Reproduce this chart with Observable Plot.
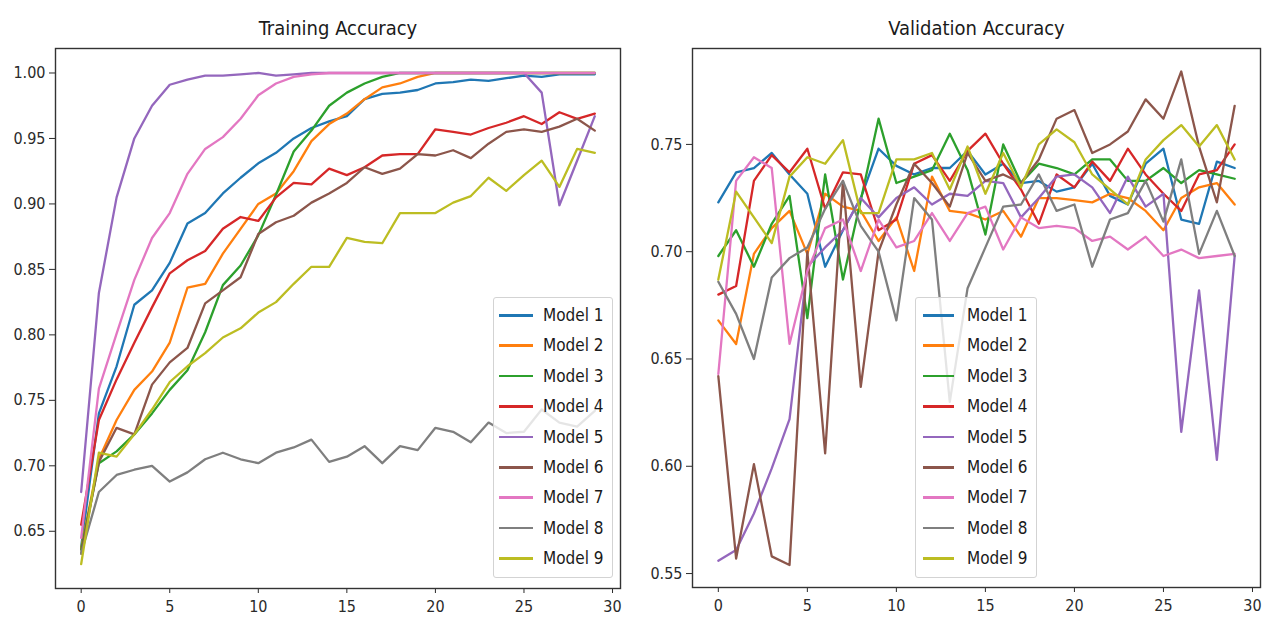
<!DOCTYPE html>
<html>
<head>
<meta charset="utf-8">
<script src="https://cdn.jsdelivr.net/npm/d3@7"></script>
<script src="https://cdn.jsdelivr.net/npm/@observablehq/plot@0.6"></script>
<style>
  body { margin: 0; background: #fff; }
  #wrap { position: relative; width: 1266px; height: 624px; overflow: hidden;
          font-family: "DejaVu Sans Condensed", "DejaVu Sans", sans-serif; font-stretch: condensed; }
  .panel { position: absolute; top: 0; }
  .legend { position: absolute; background: rgba(255,255,255,0.8); border: 1px solid #d3d3d3;
            border-radius: 3px; box-sizing: border-box; }
  .item { position: absolute; left: 0; right: 0; height: 22px; }
  .item .swatch { position: absolute; top: 10px; height: 2.6px; }
  .item .lab { position: absolute; top: 0; line-height: 22px; font-size: 17px; color: #1a1a1a; white-space: nowrap; }
</style>
</head>
<body>
<div id="wrap"></div>
<script>
const epochs = d3.range(30);
const models = ["Model 1","Model 2","Model 3","Model 4","Model 5","Model 6","Model 7","Model 8","Model 9"];
const colors = ["#1f77b4","#ff7f0e","#2ca02c","#d62728","#9467bd","#8c564b","#e377c2","#7f7f7f","#bcbd22"];
const xTicks = [0, 5, 10, 15, 20, 25, 30];
const trainTicks = [0.65, 0.70, 0.75, 0.80, 0.85, 0.90, 0.95, 1.00];
const valTicks = [0.55, 0.60, 0.65, 0.70, 0.75];
const titles = ["Training Accuracy", "Validation Accuracy"];

// Training accuracy per model (epochs 0..29)
const trainM1 = [0.638,0.740,0.776,0.823,0.834,0.855,0.885,0.893,0.908,0.920,0.931,0.939,0.950,0.958,0.963,0.967,0.980,0.984,0.985,0.987,0.992,0.993,0.995,0.994,0.996,0.998,0.997,0.999,0.999,0.999];
const trainM2 = [0.637,0.705,0.735,0.758,0.772,0.794,0.836,0.839,0.862,0.881,0.900,0.908,0.925,0.948,0.961,0.969,0.980,0.989,0.992,0.997,1.000,1.000,1.000,1.000,1.000,1.000,1.000,1.000,1.000,1.000];
const trainM3 = [0.636,0.702,0.711,0.724,0.740,0.758,0.773,0.802,0.838,0.853,0.876,0.907,0.940,0.956,0.975,0.985,0.992,0.997,1.000,1.000,1.000,1.000,1.000,1.000,1.000,1.000,1.000,1.000,1.000,1.000];
const trainM4 = [0.655,0.735,0.766,0.794,0.821,0.847,0.857,0.864,0.881,0.890,0.887,0.905,0.916,0.915,0.927,0.922,0.928,0.937,0.938,0.938,0.957,0.955,0.953,0.958,0.962,0.967,0.961,0.970,0.965,0.969];
const trainM5 = [0.680,0.832,0.905,0.950,0.975,0.991,0.995,0.998,0.998,0.999,1.000,0.998,0.999,1.000,1.000,1.000,1.000,1.000,1.000,1.000,1.000,1.000,1.000,1.000,1.000,1.000,0.985,0.899,0.933,0.967];
const trainM6 = [0.633,0.703,0.729,0.724,0.762,0.779,0.790,0.824,0.834,0.844,0.877,0.886,0.891,0.901,0.908,0.916,0.928,0.923,0.927,0.938,0.937,0.941,0.935,0.946,0.955,0.957,0.955,0.959,0.965,0.956];
const trainM7 = [0.645,0.759,0.801,0.842,0.874,0.893,0.923,0.942,0.951,0.965,0.983,0.992,0.997,0.999,1.000,1.000,1.000,1.000,1.000,1.000,1.000,1.000,1.000,1.000,1.000,1.000,1.000,1.000,1.000,1.000];
const trainM8 = [0.633,0.680,0.693,0.697,0.700,0.688,0.695,0.705,0.710,0.705,0.702,0.710,0.714,0.720,0.703,0.707,0.715,0.702,0.715,0.712,0.729,0.726,0.718,0.733,0.725,0.726,0.743,0.733,0.730,0.742];
const trainM9 = [0.625,0.710,0.707,0.724,0.743,0.764,0.776,0.786,0.798,0.805,0.817,0.825,0.839,0.852,0.852,0.874,0.871,0.870,0.893,0.893,0.893,0.901,0.906,0.920,0.910,0.922,0.933,0.913,0.942,0.939];

// Validation accuracy per model (epochs 0..29)
const valM1 = [0.723,0.737,0.739,0.746,0.736,0.727,0.693,0.710,0.725,0.748,0.740,0.736,0.739,0.739,0.747,0.736,0.741,0.732,0.733,0.728,0.730,0.741,0.726,0.722,0.741,0.748,0.715,0.713,0.742,0.739];
const valM2 = [0.668,0.657,0.699,0.711,0.719,0.699,0.727,0.721,0.719,0.705,0.716,0.691,0.735,0.719,0.718,0.715,0.719,0.707,0.725,0.725,0.724,0.723,0.727,0.725,0.719,0.710,0.725,0.730,0.732,0.722];
const valM3 = [0.698,0.710,0.693,0.713,0.726,0.669,0.736,0.687,0.724,0.762,0.732,0.735,0.738,0.755,0.738,0.708,0.750,0.732,0.741,0.739,0.736,0.743,0.743,0.733,0.733,0.739,0.732,0.738,0.736,0.734];
const valM4 = [0.680,0.684,0.733,0.745,0.737,0.748,0.720,0.737,0.736,0.710,0.715,0.741,0.745,0.733,0.747,0.755,0.741,0.729,0.713,0.736,0.730,0.742,0.733,0.748,0.736,0.727,0.719,0.736,0.738,0.750];
const valM5 = [0.556,0.561,0.578,0.599,0.622,0.693,0.702,0.710,0.725,0.716,0.725,0.730,0.722,0.727,0.726,0.733,0.732,0.716,0.725,0.735,0.736,0.730,0.718,0.735,0.721,0.727,0.616,0.682,0.603,0.698];
const valM6 = [0.642,0.557,0.601,0.558,0.554,0.700,0.606,0.733,0.637,0.700,0.722,0.741,0.732,0.721,0.746,0.733,0.736,0.732,0.743,0.762,0.766,0.746,0.750,0.756,0.771,0.762,0.784,0.749,0.723,0.768];
const valM7 = [0.643,0.733,0.744,0.739,0.657,0.691,0.711,0.715,0.691,0.715,0.702,0.705,0.718,0.705,0.718,0.721,0.701,0.716,0.711,0.712,0.711,0.705,0.707,0.701,0.707,0.698,0.701,0.697,0.698,0.699];
const valM8 = [0.686,0.671,0.650,0.688,0.697,0.702,0.720,0.733,0.712,0.700,0.668,0.725,0.715,0.630,0.683,0.702,0.721,0.722,0.736,0.719,0.722,0.693,0.715,0.718,0.733,0.714,0.743,0.699,0.719,0.698];
const valM9 = [0.687,0.728,0.716,0.704,0.735,0.744,0.741,0.752,0.718,0.718,0.743,0.743,0.746,0.729,0.749,0.727,0.746,0.730,0.750,0.757,0.751,0.736,0.729,0.722,0.743,0.752,0.759,0.749,0.759,0.743];

const trainSeries = [trainM1,trainM2,trainM3,trainM4,trainM5,trainM6,trainM7,trainM8,trainM9];
const valSeries = [valM1,valM2,valM3,valM4,valM5,valM6,valM7,valM8,valM9];

function toRows(series) {
  return series.flatMap((vals, k) => vals.map((v, i) => ({epoch: epochs[i], value: v, model: models[k]})));
}

const FONT = '"DejaVu Sans Condensed", "DejaVu Sans", sans-serif';

function panel(opts) {
  return Plot.plot({
    width: opts.width, height: 624,
    marginLeft: opts.ml, marginRight: opts.mr, marginTop: 48, marginBottom: opts.mb,
    style: {fontFamily: FONT, fontSize: "16px", color: "#2a2a2a", background: "transparent", overflow: "visible", fontStretch: "condensed"},
    x: {domain: [-1.45, 30.45], ticks: xTicks, tickSize: 5, tickPadding: 7, label: null},
    y: {domain: opts.yDomain, ticks: opts.yTicks, tickFormat: d3.format(".2f"), tickSize: 6, tickPadding: 4, label: null},
    color: {domain: models, range: colors},
    marks: [
      Plot.line(toRows(opts.series), {x: "epoch", y: "value", stroke: "model", strokeWidth: 2.3, strokeLinejoin: "round"}),
      Plot.frame({stroke: "#333", strokeWidth: 1.4}),
      Plot.text([opts.title], {text: d => d, frameAnchor: "top", lineAnchor: "middle", dy: -20, fontSize: 20, fill: "#1a1a1a"})
    ]
  });
}

function legend(left, top, width, height, swLeft, swWidth, labLeft) {
  const box = document.createElement("div");
  box.className = "legend";
  Object.assign(box.style, {left: left + "px", top: top + "px", width: width + "px", height: height + "px"});
  models.forEach((m, k) => {
    const it = document.createElement("div");
    it.className = "item";
    it.style.top = (6 + k * 30.4) + "px";
    const sw = document.createElement("div");
    sw.className = "swatch";
    Object.assign(sw.style, {left: swLeft + "px", width: swWidth + "px", background: colors[k]});
    const lab = document.createElement("span");
    lab.className = "lab";
    lab.style.left = labLeft + "px";
    lab.textContent = m;
    it.appendChild(sw); it.appendChild(lab);
    box.appendChild(it);
  });
  return box;
}

const wrap = document.getElementById("wrap");

const p1 = panel({series: trainSeries, yDomain: [0.6063, 1.0187], yTicks: trainTicks, width: 630, ml: 55, mr: 10, mb: 36, title: titles[0]});
p1.classList.add("panel"); p1.style.left = "0px";
wrap.appendChild(p1);

const p2 = panel({series: valSeries, yDomain: [0.5435, 0.7947], yTicks: valTicks, width: 626, ml: 52, mr: 6, mb: 37, title: titles[1]});
p2.classList.add("panel"); p2.style.left = "640px";
wrap.appendChild(p2);

wrap.appendChild(legend(493, 297, 120, 281, 5, 34, 49));
wrap.appendChild(legend(915, 297, 122, 281, 7, 31, 51));
</script>
</body>
</html>
